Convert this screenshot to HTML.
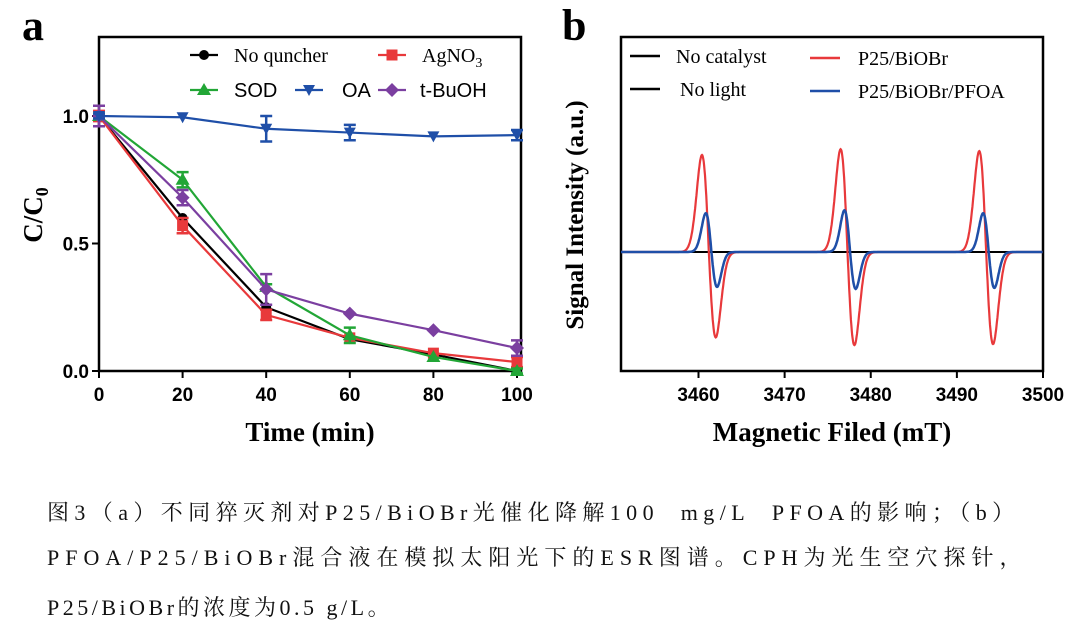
<!DOCTYPE html>
<html><head><meta charset="utf-8"><style>
html,body{margin:0;padding:0;background:#fff;width:1080px;height:643px;overflow:hidden}
.cap{position:absolute;left:47px;font-family:"Liberation Serif","Noto Serif CJK SC",serif;font-size:22px;color:#111;white-space:nowrap}
</style></head><body>
<svg id="svg" width="1080" height="470" style="position:absolute;left:0;top:0">
<text x="22" y="40" font-family="Liberation Serif,serif" font-weight="bold" font-size="44">a</text>
<text x="562" y="40" font-family="Liberation Serif,serif" font-weight="bold" font-size="44">b</text>
<g id="ga"></g><g id="gb"></g>
</svg>
<div class="cap" style="top:496px;letter-spacing:5.4px">图3（a）不同猝灭剂对P25/BiOBr光催化降解100&nbsp; mg/L&nbsp; PFOA的影响；（b）</div>
<div class="cap" style="top:541px;letter-spacing:6px">PFOA/P25/BiOBr混合液在模拟太阳光下的ESR图谱。CPH为光生空穴探针，</div>
<div class="cap" style="top:591px;letter-spacing:3.5px">P25/BiOBr的浓度为0.5 g/L。</div>
<script>
// ---------- Panel a data ----------
const times=[0,20,40,60,80,100];
const yTicksA=[0,0.5,1.0];
const yTickLabelsA=["0.0","0.5","1.0"];
const noQuencher=[1.0,0.60,0.25,0.125,0.065,0.0];
const agno3=[1.0,0.57,0.22,0.13,0.07,0.035];
const sod=[1.0,0.75,0.33,0.14,0.055,0.0];
const oa=[1.0,0.995,0.95,0.935,0.92,0.925];
const tbuoh=[1.0,0.68,0.32,0.225,0.16,0.09];
const errAg=[0.02,0.03,0.02,0,0,0.02];
const errSod=[0.01,0.03,0.01,0.03,0,0.01];
const errOa=[0.01,0,0.05,0.03,0,0.02];
const errTb=[0.04,0.03,0.06,0,0,0.03];
// ---------- Panel b data ----------
const fieldTicks=[3460,3470,3480,3490,3500];
const lineCenters=[3461.2,3477.3,3493.4];
const redUp=[100,106,104];
const redDown=[-88,-96,-95];
const blueUp=[40,43,40];
const blueDown=[-36,-38,-37];

const NS="http://www.w3.org/2000/svg";
function mk(p,t,a){const e=document.createElementNS(NS,t);for(const k in a)e.setAttribute(k,a[k]);p.appendChild(e);return e;}
const ga=document.getElementById('ga'), gb=document.getElementById('gb');
const sans="Liberation Sans,Arial,sans-serif", serif="Liberation Serif,serif";

const ax=t=>99+t*(517-99)/100;
const ay=v=>371-v*255;
let e=mk(ga,'rect',{x:99,y:37,width:422,height:334,fill:'none',stroke:'#000','stroke-width':2.5});

times.forEach(t=>{
  let tk=mk(ga,'line',{x1:ax(t),x2:ax(t),y1:371,y2:378,stroke:'#000','stroke-width':2});
  
  let tl=mk(ga,'text',{x:ax(t),y:401,'text-anchor':'middle','font-family':sans,'font-weight':'bold','font-size':19});
  tl.textContent=t;
});
yTicksA.forEach((v,i)=>{
  let tk=mk(ga,'line',{x1:92,x2:99,y1:ay(v),y2:ay(v),stroke:'#000','stroke-width':2});
  
  let tl=mk(ga,'text',{x:89,y:ay(v)+7,'text-anchor':'end','font-family':sans,'font-weight':'bold','font-size':19});
  tl.textContent=yTickLabelsA[i];
});
e=mk(ga,'text',{x:310,y:441,'text-anchor':'middle','font-family':serif,'font-weight':'bold','font-size':27});
e.textContent='Time (min)';
e=mk(ga,'text',{transform:'translate(42,215) rotate(-90)','text-anchor':'middle','font-family':serif,'font-weight':'bold','font-size':27});
e.innerHTML='C/C<tspan font-size="18" dy="6">0</tspan>';

function marker(g,type,x,y,c){
  let m;
  if(type==='circle')m=mk(g,'circle',{cx:x,cy:y,r:5,fill:c});
  else if(type==='square')m=mk(g,'rect',{x:x-5.5,y:y-5.5,width:11,height:11,fill:c});
  else if(type==='tri')m=mk(g,'polygon',{points:`${x},${y-7} ${x-7},${y+5} ${x+7},${y+5}`,fill:c});
  else if(type==='itri')m=mk(g,'polygon',{points:`${x},${y+6} ${x-6},${y-5} ${x+6},${y-5}`,fill:c});
  else m=mk(g,'polygon',{points:`${x},${y-7} ${x+7},${y} ${x},${y+7} ${x-7},${y}`,fill:c});
  return m;
}
const seriesA=[
 {name:'no-quencher',vals:noQuencher,err:null,c:'#000',m:'circle'},
 {name:'agno3',vals:agno3,err:errAg,c:'#e8393b',m:'square'},
 {name:'sod',vals:sod,err:errSod,c:'#22a636',m:'tri'},
 {name:'t-buoh',vals:tbuoh,err:errTb,c:'#7b3fa0',m:'diamond'},
 {name:'oa',vals:oa,err:errOa,c:'#1f4fa8',m:'itri'}];
seriesA.forEach(s=>{
  const g=mk(ga,'g',{});
  
  let l=mk(g,'polyline',{points:s.vals.map((v,i)=>ax(times[i])+','+ay(v)).join(' '),fill:'none',stroke:s.c,'stroke-width':2.2});
  
  s.vals.forEach((v,i)=>{
    const x=ax(times[i]);
    if(s.err&&s.err[i]>0){
      const y1=ay(v+s.err[i]),y2=ay(v-s.err[i]);
      let eb=mk(g,'path',{d:`M${x},${y1}V${y2}M${x-6},${y1}H${x+6}M${x-6},${y2}H${x+6}`,stroke:s.c,'stroke-width':2.5,fill:'none'});
      
    }
    let m=marker(g,s.m,x,ay(v),s.c);
    
  });
});
const legA=[['No quncher','#000','circle',190,55],['AgNO3','#e8393b','square',378,55],['SOD','#22a636','tri',190,90],['OA','#1f4fa8','itri',295,90],['t-BuOH','#7b3fa0','diamond',378,90]];
legA.forEach(L=>{
  const g=mk(ga,'g',{});
  
  mk(g,'line',{x1:L[3],x2:L[3]+28,y1:L[4],y2:L[4],stroke:L[1],'stroke-width':2.2});
  marker(g,L[2],L[3]+14,L[4],L[1]);
  const t=mk(g,'text',{x:L[3]+(L[0]==='OA'?47:(L[0]==='t-BuOH'?42:44)),y:L[4]+7,'font-family':L[0]==='SOD'||L[0]==='OA'||L[0]==='t-BuOH'?sans:serif,'font-size':20});
  if(L[0]==='AgNO3')t.innerHTML='AgNO<tspan font-size="14" dy="5">3</tspan>';else t.textContent=L[0];
});

const bx=f=>621+(f-3451)*(1043-621)/49;
const by=v=>252-v*0.97;
e=mk(gb,'rect',{x:621,y:37,width:422,height:334,fill:'none',stroke:'#000','stroke-width':2.5});

fieldTicks.forEach(f=>{
  let tk=mk(gb,'line',{x1:bx(f),x2:bx(f),y1:371,y2:378,stroke:'#000','stroke-width':2});
  
  let tl=mk(gb,'text',{x:bx(f),y:401,'text-anchor':'middle','font-family':sans,'font-weight':'bold','font-size':19});
  tl.textContent=f;
});
e=mk(gb,'text',{x:832,y:441,'text-anchor':'middle','font-family':serif,'font-weight':'bold','font-size':27});
e.textContent='Magnetic Filed (mT)';
e=mk(gb,'text',{transform:'translate(583,215) rotate(-90)','text-anchor':'middle','font-family':serif,'font-weight':'bold','font-size':25});
e.textContent='Signal Intensity (a.u.)';

function spectrum(up,down,sig,shift){
  const pts=[];
  for(let f=3451;f<=3500;f+=0.05){
    let v=0;
    lineCenters.forEach((c,i)=>{
      const u=(f-c-shift)/sig;
      const d=-u*Math.exp(0.5-u*u/2);
      v+=d>0?d*up[i]:-d*down[i];
    });
    pts.push(bx(f).toFixed(1)+','+by(v).toFixed(1));
  }
  return pts.join(' ');
}
let bl=mk(gb,'line',{x1:621,x2:1043,y1:by(0),y2:by(0),stroke:'#000','stroke-width':2});

let rl=mk(gb,'polyline',{points:spectrum(redUp,redDown,0.8,0),fill:'none',stroke:'#e8393b','stroke-width':2.2});

let bll=mk(gb,'polyline',{points:spectrum(blueUp,blueDown,0.65,0.3),fill:'none',stroke:'#1f4fa8','stroke-width':2.5});

const legB=[['No catalyst','#000',630,56,676],['No light','#000',630,89,680],['P25/BiOBr','#e8393b',810,58,858],['P25/BiOBr/PFOA','#1f4fa8',810,91,858]];
legB.forEach(L=>{
  const g=mk(gb,'g',{});
  
  mk(g,'line',{x1:L[2],x2:L[2]+30,y1:L[3],y2:L[3],stroke:L[1],'stroke-width':2.5});
  const t=mk(g,'text',{x:L[4],y:L[3]+7,'font-family':serif,'font-size':20});
  t.textContent=L[0];
});
</script>
</body></html>
